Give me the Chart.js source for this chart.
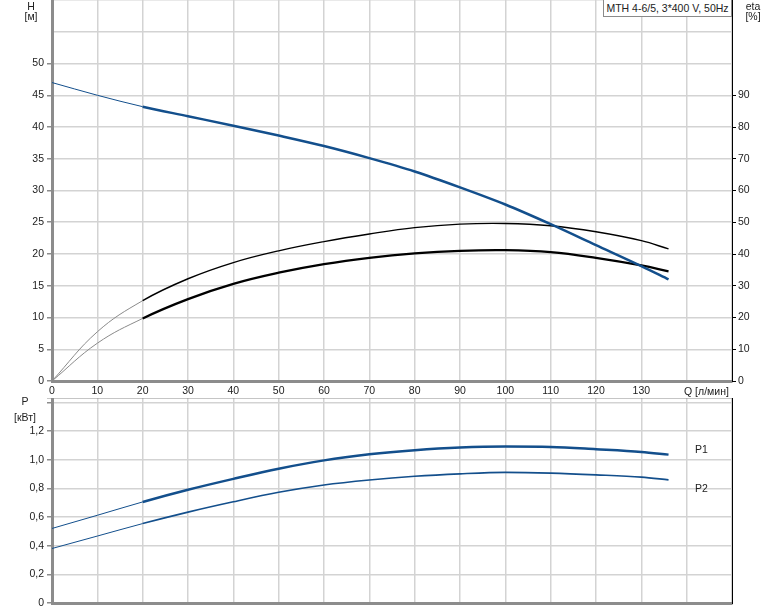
<!DOCTYPE html>
<html>
<head>
<meta charset="utf-8">
<script src="https://cdn.jsdelivr.net/npm/chart.js@4/dist/chart.umd.min.js"></script>
<style>
  body { margin: 0; background: #fff; }
  #wrap { position: relative; width: 774px; height: 611px; font-family: "Liberation Sans", Arial, sans-serif; }
  canvas { position: absolute; left: 0; }
  .lbl { position: absolute; font-size: 10.5px; color: #222; line-height: 12px; white-space: nowrap; }
  .c { text-align: center; width: 40px; }
  #model { position: absolute; left: 603px; top: 0; width: 127px; height: 16px; border: 1px solid #8a8a8a; border-top: none;
           background: #fff; font-size: 10.5px; color: #222; line-height: 16px; text-align: center; }
</style>
</head>
<body>
<div id="wrap">
  <canvas id="topChart" width="774" height="398" style="top:0"></canvas>
  <canvas id="bottomChart" width="774" height="213" style="top:398px"></canvas>

  <div class="lbl c" style="left:11px;top:0px">H</div>
  <div class="lbl c" style="left:11px;top:10px">[м]</div>
  <div class="lbl c" style="left:733px;top:0px">eta</div>
  <div class="lbl c" style="left:733px;top:10px">[%]</div>
  <div class="lbl" style="left:684px;top:385px">Q [л/мин]</div>
  <div class="lbl c" style="left:5px;top:395px">P</div>
  <div class="lbl c" style="left:5px;top:411px">[кВт]</div>
  <div class="lbl" style="left:695px;top:443px">P1</div>
  <div class="lbl" style="left:695px;top:482px">P2</div>
  <div id="model">MTH 4-6/5, 3*400 V, 50Hz</div>
</div>

<script>
// Flow points (l/min)
const flowQ = [0, 10, 20, 30, 40, 50, 60, 70, 80, 90, 100, 110, 120, 130, 136];
// Head H [m]
const headH = [47.0, 45.0, 43.2, 41.7, 40.2, 38.65, 37.0, 35.1, 33.0, 30.5, 27.8, 24.7, 21.4, 18.1, 16.0];
// Efficiency eta [%]
const etaUpper = [0, 15.5, 25.3, 32.2, 37.3, 41.0, 43.9, 46.3, 48.3, 49.4, 49.6, 48.9, 47.0, 44.2, 41.6];
const etaLower = [0, 11.9, 19.7, 25.8, 30.6, 34.1, 36.8, 38.8, 40.2, 41.0, 41.2, 40.6, 38.8, 36.4, 34.5];
// Power P [kW]
const powerP1 = [0.52, 0.612, 0.705, 0.79, 0.866, 0.937, 0.995, 1.037, 1.066, 1.085, 1.092, 1.089, 1.073, 1.054, 1.035];
const powerP2 = [0.38, 0.467, 0.554, 0.634, 0.706, 0.772, 0.823, 0.858, 0.884, 0.901, 0.911, 0.906, 0.894, 0.878, 0.859];

// Tick labels
const qTicks = [0, 10, 20, 30, 40, 50, 60, 70, 80, 90, 100, 110, 120, 130];
const hTicks = [0, 5, 10, 15, 20, 25, 30, 35, 40, 45, 50];
const etaTicks = [0, 10, 20, 30, 40, 50, 60, 70, 80, 90];
const pTickValues = [0, 0.2, 0.4, 0.6, 0.8, 1.0, 1.2, 1.4];
const pTickLabels = ['0', '0,2', '0,4', '0,6', '0,8', '1,0', '1,2', ''];

const BLUE = '#134f8c';
const GRID = '#d3d3d3';
const AXIS = '#8c8c8c';
const FONT = { family: '"Liberation Sans", Arial, sans-serif', size: 10.5 };
const Q_START = 20;   // curves are drawn thin below this flow

function pts(values) {
    return flowQ.map((q, i) => ({ x: q, y: values[i] }));
}

// one curve, thin/light before Q_START, full style after
function curve(values, color, width, thinColor, axis, mode) {
    return {
        data: pts(values),
        borderColor: color,
        borderWidth: width,
        pointRadius: 0,
        cubicInterpolationMode: mode || 'monotone',
        tension: 0.4,
        fill: false,
        yAxisID: axis,
        segment: {
            borderWidth: c => c.p0.parsed.x < Q_START ? 1 : width,
            borderColor: c => c.p0.parsed.x < Q_START ? thinColor : color
        }
    };
}

function fixWidth(w) {
    return function(scale) {
        scale.width = w;
        scale.paddingTop = 0;
        scale.paddingBottom = 0;
    };
}

function fixHeight(h) {
    return function(scale) {
        scale.height = h;
        scale.paddingLeft = 0;
        scale.paddingRight = 0;
    };
}

const common = {
    responsive: false,
    animation: false,
    layout: { padding: 0 },
    plugins: { legend: { display: false }, tooltip: { enabled: false } }
};

new Chart(document.getElementById('topChart'), {
    type: 'line',
    data: {
        datasets: [
            curve(headH, BLUE, 2.5, BLUE, 'y'),
            curve(etaUpper, '#000', 1.4, '#8a8a8a', 'eta', 'default'),
            curve(etaLower, '#000', 2.3, '#8a8a8a', 'eta', 'default')
        ]
    },
    options: {
        ...common,
        scales: {
            x: {
                type: 'linear', min: 0, max: 150,
                afterBuildTicks: s => { s.ticks = qTicks.concat([140, 150]).map(v => ({ value: v })); },
                ticks: {
                    color: '#222', font: FONT, padding: 4, maxRotation: 0, autoSkip: false,
                    callback: v => qTicks.includes(v) ? String(v) : ''
                },
                grid: { color: GRID, lineWidth: 1.5, drawTicks: false },
                border: { color: AXIS, width: 3 },
                afterFit: fixHeight(17)
            },
            y: {
                position: 'left', min: 0, max: 60,
                afterBuildTicks: s => { s.ticks = hTicks.concat([55, 60]).map(v => ({ value: v })); },
                ticks: {
                    color: '#222', font: FONT, padding: 3,
                    callback: v => hTicks.includes(v) ? String(v) : ''
                },
                grid: {
                    color: GRID, lineWidth: 1.5, tickLength: 5,
                    tickColor: c => (c.tick && c.tick.value > 50) ? 'rgba(0,0,0,0)' : AXIS
                },
                border: { color: AXIS, width: 3 },
                afterFit: fixWidth(52)
            },
            eta: {
                position: 'right', min: 0, max: 120,
                afterBuildTicks: s => { s.ticks = etaTicks.map(v => ({ value: v })); },
                ticks: { color: '#222', font: FONT, padding: 2 },
                grid: { drawOnChartArea: false, color: '#000', tickLength: 4 },
                border: { color: '#000', width: 1 },
                afterFit: fixWidth(42)
            }
        }
    }
});

new Chart(document.getElementById('bottomChart'), {
    type: 'line',
    data: {
        datasets: [
            curve(powerP1, BLUE, 2.5, BLUE, 'y'),
            curve(powerP2, BLUE, 1.6, BLUE, 'y')
        ]
    },
    options: {
        ...common,
        scales: {
            x: {
                type: 'linear', min: 0, max: 150,
                afterBuildTicks: s => { s.ticks = qTicks.concat([140, 150]).map(v => ({ value: v })); },
                ticks: { display: false },
                grid: { color: GRID, lineWidth: 1.5, drawTicks: false },
                border: { color: AXIS, width: 3 },
                afterFit: fixHeight(8)
            },
            y: {
                position: 'left', min: 0, max: 1.43,
                afterBuildTicks: s => { s.ticks = pTickValues.concat([1.43]).map(v => ({ value: v })); },
                ticks: {
                    color: '#222', font: FONT, padding: 3,
                    callback: (v, i) => pTickLabels[i] || ''
                },
                grid: {
                    color: c => (c.tick && c.tick.value > 1.41) ? AXIS : GRID,
                    lineWidth: 1.5, tickLength: 5,
                    tickColor: AXIS
                },
                border: { color: AXIS, width: 3 },
                afterFit: fixWidth(52)
            },
            r: {
                position: 'right', min: 0, max: 1.43,
                ticks: { display: false },
                grid: { drawOnChartArea: false, drawTicks: false },
                border: { color: '#000', width: 1 },
                afterFit: fixWidth(42)
            }
        }
    }
});
</script>
</body>
</html>
